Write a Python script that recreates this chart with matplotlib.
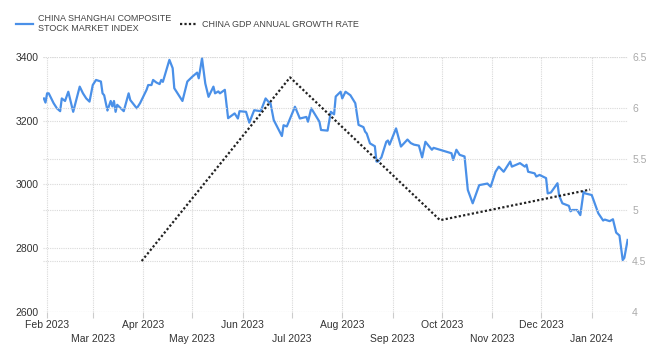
import matplotlib
matplotlib.use('Agg')
import matplotlib.pyplot as plt
from matplotlib.lines import Line2D
import pandas as pd

plt.rcParams['font.family'] = ['Liberation Sans', 'DejaVu Sans']

# --- Shanghai Composite ---
sse_dates = [
    '2023-01-30', '2023-01-31', '2023-02-01', '2023-02-02', '2023-02-05', '2023-02-07',
    '2023-02-09', '2023-02-10', '2023-02-12', '2023-02-14', '2023-02-17', '2023-02-21',
    '2023-02-23', '2023-02-25', '2023-02-27', '2023-03-01', '2023-03-03', '2023-03-06',
    '2023-03-07', '2023-03-08', '2023-03-10', '2023-03-12', '2023-03-13', '2023-03-14',
    '2023-03-15', '2023-03-16', '2023-03-18', '2023-03-20', '2023-03-23', '2023-03-24',
    '2023-03-28', '2023-03-30', '2023-04-03', '2023-04-04', '2023-04-06', '2023-04-07',
    '2023-04-09', '2023-04-11', '2023-04-12', '2023-04-13', '2023-04-17', '2023-04-19',
    '2023-04-20', '2023-04-25', '2023-04-28', '2023-05-01', '2023-05-04', '2023-05-05',
    '2023-05-07', '2023-05-09', '2023-05-11', '2023-05-14', '2023-05-15', '2023-05-17',
    '2023-05-18', '2023-05-21', '2023-05-23', '2023-05-27', '2023-05-29', '2023-05-30',
    '2023-06-03', '2023-06-05', '2023-06-08', '2023-06-12', '2023-06-15', '2023-06-17',
    '2023-06-18', '2023-06-20', '2023-06-25', '2023-06-26', '2023-06-28', '2023-07-03',
    '2023-07-06', '2023-07-10', '2023-07-11', '2023-07-13', '2023-07-18', '2023-07-19',
    '2023-07-23', '2023-07-25', '2023-07-27', '2023-07-28', '2023-07-31', '2023-08-01',
    '2023-08-03', '2023-08-06', '2023-08-09', '2023-08-11', '2023-08-14', '2023-08-15',
    '2023-08-16', '2023-08-18', '2023-08-21', '2023-08-22', '2023-08-23', '2023-08-25',
    '2023-08-28', '2023-08-29', '2023-08-30', '2023-09-03', '2023-09-06', '2023-09-10',
    '2023-09-12', '2023-09-14', '2023-09-17', '2023-09-19', '2023-09-21', '2023-09-25',
    '2023-09-26', '2023-10-07', '2023-10-08', '2023-10-10', '2023-10-12', '2023-10-15',
    '2023-10-17', '2023-10-20', '2023-10-24', '2023-10-29', '2023-10-31', '2023-11-03',
    '2023-11-05', '2023-11-08', '2023-11-12', '2023-11-13', '2023-11-18', '2023-11-21',
    '2023-11-22', '2023-11-23', '2023-11-27', '2023-11-28', '2023-11-30', '2023-12-04',
    '2023-12-05', '2023-12-07', '2023-12-11', '2023-12-12', '2023-12-14', '2023-12-18',
    '2023-12-19', '2023-12-20', '2023-12-23', '2023-12-25', '2023-12-27', '2023-12-28',
    '2024-01-01', '2024-01-05', '2024-01-08', '2024-01-09', '2024-01-12', '2024-01-14',
    '2024-01-16', '2024-01-18', '2024-01-20', '2024-01-21', '2024-01-23',
]
sse_values = [
    3270, 3257, 3286, 3286, 3255, 3239,
    3230, 3270, 3262, 3291, 3228, 3307,
    3286, 3270, 3260, 3312, 3328, 3323,
    3286, 3280, 3232, 3262, 3245, 3262,
    3228, 3250, 3240, 3230, 3286, 3265,
    3239, 3255, 3297, 3312, 3312, 3328,
    3320, 3315, 3328, 3322, 3391, 3365,
    3302, 3262, 3323, 3338, 3351, 3333,
    3396, 3317, 3275, 3307, 3286, 3292,
    3286, 3297, 3208, 3223, 3207, 3230,
    3228, 3194, 3233, 3230, 3270, 3258,
    3255, 3202, 3152, 3186, 3182, 3244,
    3207, 3212, 3197, 3239, 3197, 3171,
    3169, 3228, 3220, 3276, 3291, 3270,
    3291, 3280, 3255, 3187, 3180, 3166,
    3160, 3129, 3120, 3072, 3072, 3085,
    3134, 3138, 3125, 3176, 3119, 3141,
    3130, 3125, 3122, 3085, 3134, 3109,
    3115, 3098, 3077, 3109, 3093, 3088,
    2983, 2941, 2998, 3003, 2993, 3040,
    3056, 3040, 3072, 3056, 3067, 3056,
    3062, 3040, 3035, 3025, 3030, 3020,
    2972, 2975, 3004, 2965, 2941, 2933,
    2916, 2920, 2920, 2904, 2977, 2972,
    2967, 2910, 2887, 2890, 2885, 2891,
    2849, 2840, 2763, 2770, 2826,
]

# --- China GDP annual growth rate (quarterly) ---
gdp_dates = ['2023-03-31', '2023-06-30', '2023-09-30', '2023-12-31']
gdp_values = [4.5, 6.3, 4.9, 5.2]

left_ticks = [2600, 2800, 3000, 3200, 3400]
right_ticks = [4, 4.5, 5, 5.5, 6, 6.5]
right_labels = ['4', '4.5', '5', '5.5', '6', '6.5']

blue = '#4a90e8'
grid_color = '#d9d9d9'

fig = plt.figure(figsize=(6.64, 3.6), dpi=100)
ax = fig.add_axes([0.0648, 0.1333, 0.8810, 0.7084])
ax2 = ax.twinx()

sse_x = pd.to_datetime(sse_dates)
gdp_x = pd.to_datetime(gdp_dates)

ax.plot(sse_x, sse_values, color=blue, linewidth=1.6, zorder=3)
ax2.plot(gdp_x, gdp_values, color='#222222', linewidth=1.6,
         linestyle=(0, (1, 1)), zorder=2)

ax.set_xlim(pd.Timestamp('2023-01-29 12:00'), pd.Timestamp('2024-01-23 06:00'))
ax.set_ylim(2600, 3400)
ax2.set_ylim(4, 6.5)

# ticks mensuales, etiquetas alternadas en dos filas
months = pd.date_range('2023-02-01', '2024-01-01', freq='MS')
month_labels = []
for i, m in enumerate(months):
    lab = m.strftime('%b %Y')
    month_labels.append(lab if i % 2 == 0 else '\n' + lab)
ax.set_xticks(months)
ax.set_xticklabels(month_labels, fontsize=7.5, color='#333333', linespacing=1.5)

ax.set_yticks(left_ticks)
ax.set_yticklabels([str(v) for v in left_ticks], fontsize=7.5, color='#333333')
ax2.set_yticks(right_ticks)
ax2.set_yticklabels(right_labels, fontsize=7.5, color='#aaaaaa')

ax.tick_params(axis='x', length=4, color='#cccccc', pad=2)
ax.tick_params(axis='y', length=0, pad=3)
ax2.tick_params(axis='y', length=0, pad=3)

ax.grid(True, color=grid_color, linestyle=(0, (1, 1)), linewidth=0.8)
ax2.grid(True, axis='y', color=grid_color, linestyle=(0, (1, 1)), linewidth=0.8)
ax.set_axisbelow(True)

for a in (ax, ax2):
    for spine in a.spines.values():
        spine.set_visible(False)

handles = [
    Line2D([0], [0], color=blue, linewidth=1.6),
    Line2D([0], [0], color='#222222', linewidth=1.6, linestyle=(0, (1, 1))),
]
fig.legend(handles, ['CHINA SHANGHAI COMPOSITE\nSTOCK MARKET INDEX',
                     'CHINA GDP ANNUAL GROWTH RATE'],
           loc='upper left', bbox_to_anchor=(0.012, 0.985), ncol=2, frameon=False,
           fontsize=6.5, handlelength=1.9, handletextpad=0.5, columnspacing=1.0,
           labelcolor='#444444')

fig.savefig('out.png', dpi=100)
